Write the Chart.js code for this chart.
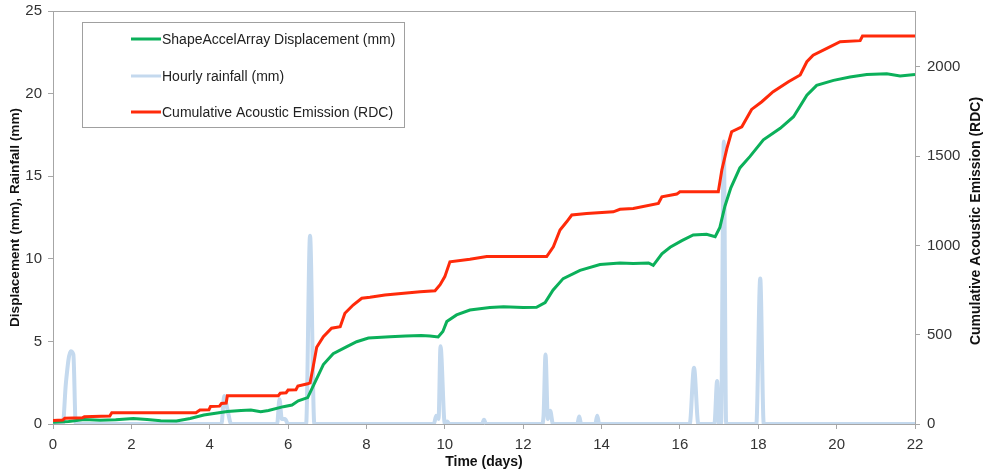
<!DOCTYPE html>
<html>
<head>
<meta charset="utf-8">
<script src="https://cdn.jsdelivr.net/npm/chart.js@4.4.1/dist/chart.umd.min.js"></script>
<style>
  html, body { margin: 0; padding: 0; background: #fff; }
  #wrap { width: 989px; height: 472px; position: relative; }
</style>
</head>
<body>
<div id="wrap"><canvas id="chart"></canvas></div>
<script>
// x axis ticks (days)
const dayTicks = [0, 2, 4, 6, 8, 10, 12, 14, 16, 18, 20, 22];

// ShapeAccelArray displacement (mm)
const dispDays = [0, 0.4, 0.8, 1.2, 1.6, 2.05, 2.4, 2.75, 3.15, 3.5, 3.85, 4.15, 4.45, 4.8, 5.05, 5.3, 5.5,
  5.88, 6.1, 6.26, 6.5, 6.7, 6.9, 7.15, 7.5, 7.75, 8.05, 8.6, 9.0, 9.4, 9.62, 9.83, 9.95, 10.05, 10.3,
  10.64, 11.15, 11.5, 12.0, 12.34, 12.56, 12.76, 13.02, 13.45, 13.96, 14.47, 14.81, 15.2, 15.32, 15.54,
  15.75, 16.05, 16.34, 16.68, 16.9, 17.02, 17.15, 17.3, 17.53, 17.79, 18.13, 18.56, 18.9, 19.24, 19.49,
  19.92, 20.34, 20.77, 21.28, 21.62, 22];
const dispMm = [0.1, 0.15, 0.27, 0.22, 0.25, 0.33, 0.27, 0.2, 0.18, 0.33, 0.54, 0.65, 0.75, 0.82, 0.85, 0.75, 0.82,
  1.05, 1.15, 1.4, 1.6, 2.6, 3.6, 4.25, 4.68, 4.98, 5.2, 5.28, 5.33, 5.35, 5.33, 5.27, 5.6, 6.2, 6.6,
  6.9, 7.05, 7.1, 7.05, 7.06, 7.35, 8.1, 8.8, 9.3, 9.65, 9.75, 9.72, 9.75, 9.6, 10.3,
  10.7, 11.1, 11.44, 11.48, 11.34, 11.9, 13.2, 14.3, 15.5, 16.2, 17.2, 17.9, 18.6, 19.9, 20.5,
  20.8, 21.0, 21.15, 21.2, 21.07, 21.15];

// Hourly rainfall (mm)
const rainDays = [0, 0.25, 0.33, 0.45, 0.52, 0.58, 4.3, 4.37, 4.45, 4.55, 5.72, 5.78, 5.84, 5.92, 6.0,
  6.46, 6.56, 6.67, 9.72, 9.78, 9.84, 9.89, 10.0, 10.06, 10.12, 10.95, 11.0, 11.05,
  12.48, 12.52, 12.57, 12.63, 12.69, 12.76, 13.38, 13.43, 13.48, 13.84, 13.89, 13.94,
  16.25, 16.36, 16.47, 16.88, 16.95, 17.0, 17.05, 17.12, 17.18, 17.95, 18.05, 18.14, 22];
const rainMm = [0, 0, 2.5, 4.4, 4.2, 0, 0, 1.7, 0.9, 0, 0, 1.5, 0.3, 0.3, 0,
  0, 11.4, 0, 0, 0.5, 0.3, 4.7, 0, 0.15, 0, 0, 0.25, 0,
  0, 0.5, 4.2, 0.3, 0.8, 0, 0, 0.45, 0, 0, 0.5, 0,
  0, 3.4, 0, 0, 2.6, 0, 0, 17.1, 0, 0, 8.8, 0, 0];

// Cumulative acoustic emission (RDC)
const aeDays = [0, 0.25, 0.3, 0.75, 0.8, 1.45, 1.5, 3.65, 3.75, 3.98, 4.02, 4.25, 4.3, 4.42, 4.45, 5.75,
  5.8, 5.95, 6.0, 6.2, 6.25, 6.5, 6.56, 6.64, 6.73, 6.9, 7.11, 7.33, 7.45, 7.66, 7.88, 8.09, 8.47, 9.37,
  9.75, 9.88, 10.0, 10.13, 10.64, 11.07, 12.6, 12.77, 12.94, 13.11, 13.24, 13.62, 14.3, 14.47, 14.81,
  15.45, 15.54, 15.92, 16.0, 16.98, 17.07, 17.2, 17.32, 17.58, 17.83, 18.09, 18.38, 18.77, 19.07, 19.24,
  19.4, 19.75, 20.09, 20.6, 20.66, 22];
const aeCount = [20, 22, 32, 35, 41, 45, 63, 63, 78, 80, 98, 100, 115, 117, 158, 158,
  172, 175, 190, 192, 213, 225, 230, 320, 430, 489, 536, 545, 620, 666, 704, 709, 722, 741,
  746, 780, 825, 908, 922, 937, 937, 992, 1086, 1132, 1170, 1179, 1188, 1202, 1207,
  1235, 1272, 1287, 1300, 1300, 1422, 1543, 1636, 1664, 1761, 1804, 1860, 1916, 1954, 2028,
  2065, 2103, 2140, 2146, 2172, 2172];

const leftTicks = [0, 5, 10, 15, 20, 25];
const rightTicks = [0, 500, 1000, 1500, 2000];

const pairs = (xs, ys) => xs.map((x, i) => ({ x: x, y: ys[i] }));

const FONT = "'Liberation Sans', Arial, sans-serif";
const AXIS = '#a6a6a6';

// box legend in the upper left of the plot, like the original
const boxLegend = {
  id: 'boxLegend',
  afterDraw(chart) {
    const ctx = chart.ctx;
    ctx.save();
    ctx.fillStyle = '#fff';
    ctx.strokeStyle = '#a0a0a0';
    ctx.lineWidth = 1;
    ctx.fillRect(82.5, 22.5, 322, 105);
    ctx.strokeRect(82.5, 22.5, 322, 105);
    const rows = [39, 76, 112];
    chart.data.datasets.forEach((ds, i) => {
      ctx.strokeStyle = ds.borderColor;
      ctx.lineWidth = 3;
      ctx.beginPath();
      ctx.moveTo(131, rows[i]);
      ctx.lineTo(161, rows[i]);
      ctx.stroke();
      ctx.fillStyle = '#222';
      ctx.font = '14px ' + FONT;
      ctx.textBaseline = 'middle';
      ctx.fillText(ds.label, 162, rows[i] + 1);
    });
    ctx.restore();
  }
};

// grey frame line along the top, and the right-hand title read bottom to top
const frame = {
  id: 'frame',
  beforeDatasetsDraw(chart) {
    const a = chart.chartArea, ctx = chart.ctx;
    ctx.save();
    ctx.strokeStyle = AXIS;
    ctx.lineWidth = 1;
    ctx.beginPath();
    ctx.moveTo(a.left, a.top + 0.5);
    ctx.lineTo(a.right, a.top + 0.5);
    ctx.stroke();
    ctx.restore();
  },
  afterDraw(chart) {
    const ctx = chart.ctx;
    ctx.save();
    ctx.translate(976, 221);
    ctx.rotate(-Math.PI / 2);
    ctx.fillStyle = '#111';
    ctx.font = 'bold 14px ' + FONT;
    ctx.textAlign = 'center';
    ctx.textBaseline = 'middle';
    ctx.fillText('Cumulative Acoustic Emission (RDC)', 0, 0);
    ctx.restore();
  }
};

const noPad = (s, w) => { s.width = w; s.paddingTop = 0; s.paddingBottom = 0; };

new Chart(document.getElementById('chart'), {
  type: 'line',
  data: {
    datasets: [{
      label: 'ShapeAccelArray Displacement (mm)',
      data: pairs(dispDays, dispMm),
      borderColor: '#0bb05a',
      borderWidth: 3,
      pointRadius: 0,
      yAxisID: 'y',
      order: 2
    }, {
      label: 'Hourly rainfall (mm)',
      data: pairs(rainDays, rainMm),
      borderColor: '#c4d9ee',
      borderWidth: 4,
      pointRadius: 0,
      cubicInterpolationMode: 'monotone',
      yAxisID: 'y',
      order: 3
    }, {
      label: 'Cumulative Acoustic Emission (RDC)',
      data: pairs(aeDays, aeCount),
      borderColor: '#ff2a0a',
      borderWidth: 3,
      pointRadius: 0,
      yAxisID: 'y1',
      order: 1
    }]
  },
  options: {
    responsive: true,
    maintainAspectRatio: false,
    animation: false,
    layout: { padding: { top: 11, left: 0, right: 0, bottom: 0 } },
    plugins: { legend: { display: false }, tooltip: { enabled: false } },
    scales: {
      x: {
        type: 'linear',
        min: 0, max: 22,
        afterFit(s) { s.height = 48; },
        afterBuildTicks(s) { s.ticks = dayTicks.map(v => ({ value: v })); },
        border: { display: true, color: AXIS },
        grid: { drawOnChartArea: false, drawTicks: true, tickLength: 5, color: AXIS },
        ticks: { color: '#333', padding: 7, maxRotation: 0, font: { family: FONT, size: 15 } },
        title: { display: true, text: 'Time (days)', color: '#111', padding: { top: 0, bottom: 1 },
          font: { family: FONT, size: 14, weight: 'bold' } }
      },
      y: {
        position: 'left',
        min: 0, max: 25,
        afterFit(s) { noPad(s, 53); },
        afterBuildTicks(s) { s.ticks = leftTicks.map(v => ({ value: v })); },
        border: { display: true, color: AXIS },
        grid: { drawOnChartArea: false, drawTicks: true, tickLength: 5, color: AXIS },
        ticks: { color: '#333', padding: 6, font: { family: FONT, size: 15 } },
        title: { display: true, text: 'Displacement (mm), Rainfall (mm)', color: '#111', padding: { top: 7, bottom: 0 },
          font: { family: FONT, size: 13.6, weight: 'bold' } }
      },
      y1: {
        position: 'right',
        min: 0, max: 2312,
        afterFit(s) { noPad(s, 74); },
        afterBuildTicks(s) { s.ticks = rightTicks.map(v => ({ value: v })); },
        border: { display: true, color: AXIS },
        grid: { drawOnChartArea: false, drawTicks: true, tickLength: 5, color: AXIS },
        ticks: { color: '#333', padding: 7, font: { family: FONT, size: 15 }, callback: v => String(v) }
      }
    }
  },
  plugins: [frame, boxLegend]
});
</script>
</body>
</html>
